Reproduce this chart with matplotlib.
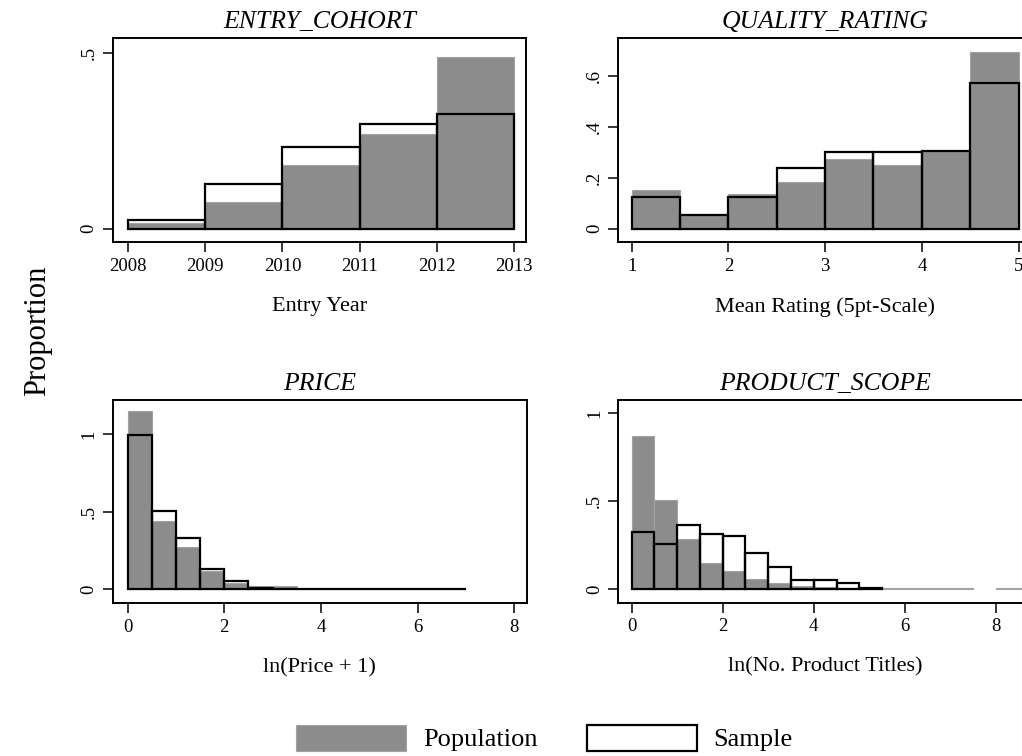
import numpy as np
import matplotlib
matplotlib.use("Agg")
import matplotlib.pyplot as plt
from matplotlib.patches import Patch

plt.rcParams['font.family'] = ['Liberation Serif', 'DejaVu Serif']

# bin edges and bar heights (population = grey, sample = outline)
cohort_edges = [2008, 2009, 2010, 2011, 2012, 2013]
cohort_pop = [0.017, 0.076, 0.182, 0.269, 0.487]
cohort_smp = [0.026, 0.127, 0.233, 0.297, 0.326]

rating_edges = [1, 1.5, 2, 2.5, 3, 3.5, 4, 4.5, 5]
rating_pop = [0.152, 0.057, 0.135, 0.185, 0.274, 0.250, 0.305, 0.696]
rating_smp = [0.126, 0.053, 0.126, 0.239, 0.303, 0.303, 0.305, 0.571]

price_edges = [0, 0.5, 1, 1.5, 2, 2.5, 3, 3.5, 4, 4.5, 5, 5.5, 6, 6.5, 7]
price_pop = [1.148, 0.442, 0.270, 0.118, 0.043, 0.022, 0.022,
             0.003, 0.003, 0.003, 0.003, 0.003, 0.003, 0.003]
price_smp = [0.996, 0.504, 0.330, 0.133, 0.053, 0.006, 0.005,
             0.004, 0.004, 0.004, 0.004, 0.004, 0.004, 0.004]

scope_edges = [0, 0.5, 1, 1.5, 2, 2.5, 3, 3.5, 4, 4.5, 5, 5.5, 6,
               6.5, 7, 7.5, 8, 8.5, 9]
scope_pop = [0.871, 0.507, 0.284, 0.151, 0.106, 0.057, 0.034, 0.020, 0.015,
             0.010, 0.006, 0.005, 0.005, 0.005, 0.005, 0.0, 0.005, 0.005]
scope_smp = [0.326, 0.257, 0.364, 0.314, 0.305, 0.208, 0.128, 0.053, 0.053,
             0.034, 0.006]

panels = [
    dict(title="ENTRY_COHORT", xlabel="Entry Year", edges=cohort_edges,
         pop=cohort_pop, smp=cohort_smp, xlim=(2007.806, 2013.155),
         ylim=(-0.0386, 0.5426), xticks=[2008, 2009, 2010, 2011, 2012, 2013],
         yticks=[0, 0.5], ylabels=["0", ".5"],
         box=(113, 37.7, 413, 204.6)),
    dict(title="QUALITY_RATING", xlabel="Mean Rating (5pt-Scale)", edges=rating_edges,
         pop=rating_pop, smp=rating_smp, xlim=(0.861, 5.137),
         ylim=(-0.0535, 0.751), xticks=[1, 2, 3, 4, 5],
         yticks=[0, 0.2, 0.4, 0.6], ylabels=["0", ".2", ".4", ".6"],
         box=(618.3, 37.7, 413.5, 204.6)),
    dict(title="PRICE", xlabel="ln(Price + 1)", edges=price_edges,
         pop=price_pop, smp=price_smp, xlim=(-0.31, 8.26),
         ylim=(-0.09, 1.219), xticks=[0, 2, 4, 6, 8],
         yticks=[0, 0.5, 1], ylabels=["0", ".5", "1"],
         box=(112.7, 400, 414, 203.3)),
    dict(title="PRODUCT_SCOPE", xlabel="ln(No. Product Titles)", edges=scope_edges,
         pop=scope_pop, smp=scope_smp, xlim=(-0.294, 8.79),
         ylim=(-0.076, 1.0755), xticks=[0, 2, 4, 6, 8],
         yticks=[0, 0.5, 1], ylabels=["0", ".5", "1"],
         box=(618.3, 400, 413.5, 202.7)),
]

W, H = 1022, 756
fig = plt.figure(figsize=(W / 100, H / 100), dpi=100)
grey = '#8c8c8c'

for p in panels:
    x0, y0, w, h = p['box']
    ax = fig.add_axes([x0 / W, (H - y0 - h) / H, w / W, h / H])
    edges = np.array(p['edges'], dtype=float)
    widths = np.diff(edges)
    pop = np.array(p['pop'])
    smp = np.array(p['smp'])
    keep = pop > 0  # empty bins are not drawn
    ax.bar(edges[:len(pop)][keep], pop[keep], width=widths[:len(pop)][keep],
           align='edge', color=grey, edgecolor='#a3a3a3', linewidth=0.8, zorder=2)
    ax.bar(edges[:len(smp)], smp, width=widths[:len(smp)], align='edge',
           fill=False, edgecolor='black', linewidth=1.6, zorder=3)
    ax.set_xlim(*p['xlim'])
    ax.set_ylim(*p['ylim'])
    ax.set_xticks(p['xticks'])
    ax.set_yticks(p['yticks'])
    ax.set_yticklabels(p['ylabels'], rotation=90, va='center')
    ax.tick_params(direction='out', length=7, width=1.1, labelsize=13.5, pad=4,
                   top=False, right=False)
    for s in ax.spines.values():
        s.set_linewidth(1.4)
    ax.set_title(p['title'], fontsize=18.5, style='italic', pad=7)
    ax.set_xlabel(p['xlabel'], fontsize=16, labelpad=16)

fig.text(38 / W, (H - 331) / H, "Proportion", rotation=90, fontsize=22,
         ha='center', va='center')

handles = [Patch(facecolor=grey, edgecolor='#a3a3a3', linewidth=0.8, label='Population'),
           Patch(facecolor='white', edgecolor='black', linewidth=1.6, label='Sample')]
fig.legend(handles=handles, loc='center', bbox_to_anchor=(544.5 / W, 18 / H),
           ncol=2, frameon=False, fontsize=19, handlelength=4.17, handleheight=1.14,
           handletextpad=0.64, columnspacing=1.86, borderpad=0, borderaxespad=0)

fig.savefig("out.png", dpi=100)
